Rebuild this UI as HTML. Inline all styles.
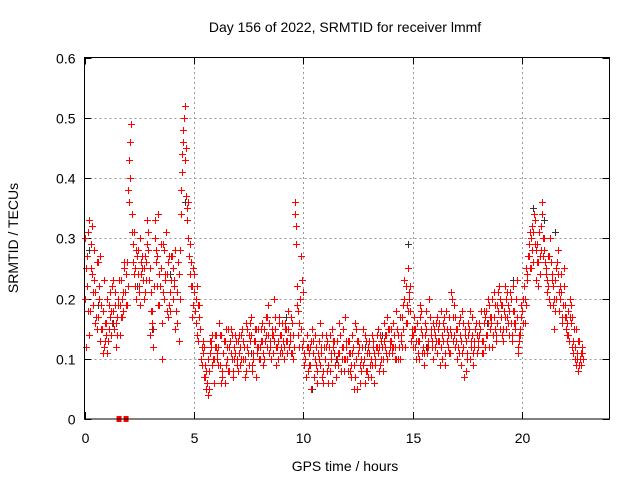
<!DOCTYPE html>
<html><head><meta charset="utf-8"><style>
html,body{margin:0;padding:0;background:#fff;}
svg{display:block;font-family:"Liberation Sans",sans-serif;}
</style></head><body>
<svg id="chart" width="640" height="480" viewBox="0 0 640 480">
<rect width="640" height="480" fill="#fff"/>
<text x="345" y="32" font-size="14" text-anchor="middle">Day 156 of 2022, SRMTID for receiver lmmf</text>
<text x="345" y="471" font-size="14" text-anchor="middle">GPS time / hours</text>
<text x="0" y="0" font-size="14" text-anchor="middle" transform="translate(18,238) rotate(-90)">SRMTID / TECUs</text>
<g id="grid"></g><g id="ticks"></g><g id="dark"></g><g id="red"></g>
<rect x="84.5" y="57.5" width="525" height="361.5" fill="none" stroke="#000" stroke-width="1"/>
</svg>
<script>
const xTicks=[0,5,10,15,20];
const yTicks=[0,0.1,0.2,0.3,0.4,0.5,0.6];
const yTickLabels=["0","0.1","0.2","0.3","0.4","0.5","0.6"];
const redStep=0.1;
const redOffsets=[0,0.05,0.025,0.075];
const redA=[.30,.22,.33,.25,.19,.21,.17,.27,.15,.12,
.16,.19,.14,.18,.21,.17,.19,.20,.26,.24,
.38,.46,.29,.25,.27,.22,.24,.20,.26,.28,
.14,.18,.33,.27,.19,.25,.29,.23,.17,.21,
.27,.22,.18,.24,.38,.48,.52,.33,.29,.22,
.24,.20,.13,.15,.11,.09,.06,.08,.12,.10,
.14,.12,.09,.07,.13,.10,.12,.15,.08,.11,
.13,.09,.15,.12,.08,.14,.17,.10,.13,.11,
.12,.16,.10,.14,.19,.13,.11,.15,.12,.17,
.14,.12,.15,.18,.13,.11,.36,.22,.16,.27,
.13,.10,.08,.12,.15,.07,.09,.13,.11,.06,
.10,.13,.08,.15,.11,.07,.09,.14,.12,.17,
.10,.13,.07,.09,.15,.11,.06,.12,.14,.08,
.11,.07,.13,.10,.15,.09,.12,.16,.14,.11,
.13,.16,.12,.15,.10,.17,.20,.22,.25,.18,
.14,.12,.16,.13,.18,.11,.15,.13,.17,.12,
.14,.11,.16,.18,.13,.09,.12,.15,.20,.14,
.13,.16,.09,.12,.15,.11,.18,.14,.12,.16,
.13,.15,.11,.17,.14,.19,.16,.21,.13,.18,
.15,.19,.22,.17,.14,.20,.18,.16,.12,.15,
.18,.22,.25,.27,.30,.26,.33,.29,.24,.36,
.28,.25,.22,.30,.19,.23,.26,.18,.21,.25,
.15,.18,.20,.17,.12,.10,.13,.09];
const redB=[.12,.31,.18,.24,.28,.15,.22,.19,.11,.13,
.20,.17,.22,.15,.12,.19,.23,.18,.21,.26,
.43,.34,.31,.20,.24,.30,.25,.21,.29,.23,
.18,.12,.26,.34,.22,.16,.28,.24,.19,.27,
.25,.15,.21,.28,.44,.50,.37,.30,.26,.19,
.18,.22,.17,.12,.07,.05,.10,.13,.09,.12,
.10,.16,.06,.11,.15,.08,.13,.10,.12,.09,
.11,.14,.10,.07,.12,.16,.09,.13,.15,.12,
.15,.09,.13,.17,.11,.14,.20,.12,.10,.14,
.11,.16,.13,.12,.17,.10,.32,.14,.20,.12,
.09,.14,.11,.05,.13,.10,.08,.16,.07,.12,
.14,.06,.11,.12,.09,.13,.16,.10,.08,.12,
.13,.08,.11,.16,.05,.12,.10,.09,.13,.07,
.09,.14,.11,.12,.08,.13,.10,.14,.17,.12,
.11,.14,.18,.10,.13,.15,.12,.19,.21,.15,
.17,.10,.13,.19,.11,.14,.12,.20,.15,.10,
.16,.13,.09,.14,.17,.15,.11,.21,.13,.17,
.10,.14,.18,.07,.13,.16,.12,.09,.15,.14,
.16,.11,.18,.14,.20,.17,.12,.15,.19,.22,
.17,.13,.20,.16,.21,.14,.18,.23,.13,.17,
.20,.16,.24,.31,.28,.34,.23,.26,.32,.30,
.26,.21,.27,.24,.15,.20,.28,.22,.17,.19,
.16,.13,.19,.11,.15,.08,.10,.12];
const redC=[.20,.27,.14,.32,.23,.17,.26,.13,.18,.16,
.11,.15,.18,.23,.16,.20,.14,.17,.25,.19,
.36,.49,.26,.22,.28,.19,.27,.25,.23,.31,
.21,.15,.30,.22,.24,.10,.20,.31,.26,.18,
.20,.28,.16,.13,.34,.46,.45,.36,.24,.17,
.21,.14,.19,.10,.13,.07,.04,.11,.14,.06,
.12,.09,.14,.11,.06,.12,.08,.14,.10,.13,
.08,.12,.13,.10,.15,.09,.14,.11,.07,.15,
.10,.13,.15,.12,.16,.10,.14,.17,.13,.11,
.16,.10,.13,.15,.11,.14,.34,.19,.12,.23,
.11,.07,.12,.09,.11,.14,.06,.10,.12,.08,
.12,.09,.14,.06,.13,.10,.11,.08,.15,.10,
.08,.11,.14,.05,.10,.13,.08,.15,.06,.11,
.13,.09,.06,.12,.11,.14,.08,.12,.10,.15,
.15,.12,.10,.14,.17,.12,.23,.16,.20,.13,
.12,.15,.11,.17,.14,.09,.18,.12,.14,.16,
.12,.17,.13,.10,.15,.18,.14,.11,.17,.12,
.15,.11,.13,.16,.08,.14,.10,.17,.13,.11,
.14,.18,.13,.12,.16,.15,.20,.17,.14,.21,
.19,.15,.17,.21,.18,.13,.16,.20,.11,.14,
.16,.20,.23,.29,.25,.31,.28,.22,.27,.34,
.30,.23,.20,.26,.22,.18,.24,.20,.16,.22,
.17,.14,.16,.13,.10,.11,.09,.11];
const redD=[.25,.18,.29,.21,.16,.26,.20,.15,.23,.14,
.13,.21,.16,.19,.14,.23,.17,.21,.19,.22,
.40,.31,.24,.28,.21,.26,.23,.27,.33,.25,
.16,.22,.28,.19,.29,.21,.24,.18,.27,.23,
.23,.18,.26,.20,.41,.43,.35,.27,.22,.25,
.16,.19,.15,.09,.12,.08,.05,.13,.10,.14,
.11,.14,.08,.13,.09,.15,.11,.07,.14,.10,
.14,.10,.12,.16,.11,.13,.08,.15,.12,.10,
.13,.11,.17,.14,.12,.15,.13,.09,.16,.12,
.13,.15,.11,.14,.16,.12,.29,.18,.15,.21,
.10,.12,.09,.13,.07,.12,.11,.09,.14,.10,
.08,.12,.10,.13,.07,.11,.14,.12,.10,.13,
.11,.09,.12,.07,.13,.09,.12,.10,.08,.12,
.10,.12,.09,.14,.12,.10,.13,.11,.15,.13,
.12,.10,.15,.12,.14,.19,.16,.18,.22,.14,
.15,.13,.10,.15,.12,.16,.11,.17,.13,.15,
.13,.15,.12,.16,.11,.13,.17,.14,.19,.15,
.12,.17,.11,.14,.10,.15,.13,.11,.16,.12,
.15,.13,.16,.18,.12,.17,.14,.19,.16,.20,
.14,.18,.15,.19,.16,.22,.15,.17,.14,.19,
.22,.19,.27,.25,.32,.29,.26,.31,.28,.27,
.24,.27,.19,.23,.20,.25,.21,.24,.19,.17,
.14,.17,.12,.15,.09,.13,.11,.10];
const redSeries=[redA,redB,redC,redD];
const darkT=[0.2,0.6,1.3,2.4,3.1,3.9,4.6,5.3,6.4,7.6,8.3,9.2,10.4,11.5,12.8,13.6,14.8,15.6,16.3,17.2,18.4,19.6,20.5,21.0,21.5,22.3];
const darkV=[0.28,0.19,0.16,0.22,0.15,0.24,0.36,0.15,0.06,0.11,0.14,0.17,0.05,0.10,0.12,0.14,0.29,0.12,0.18,0.13,0.16,0.23,0.35,0.33,0.31,0.12];
const squareT=[1.58,1.9];
const squareV=[0,0];

const NS="http://www.w3.org/2000/svg";
const X0=84.5,X1=609.5,Y0=419,Y1=57.5;
function sx(t){return X0+(t/24)*(X1-X0);}
function sy(v){return Y0-(v/0.6)*(Y0-Y1);}
function mk(tag,attrs,parent){const e=document.createElementNS(NS,tag);for(const k in attrs)e.setAttribute(k,attrs[k]);parent.appendChild(e);return e;}
const grid=document.getElementById('grid'),ticks=document.getElementById('ticks');
yTicks.forEach((v,i)=>{
  const y=Math.round(sy(v))+0.5;
  if(i>0&&i<yTicks.length-1){const g=mk('line',{x1:X0,x2:X1,y1:y,y2:y,stroke:'#999','stroke-dasharray':'2,3'},grid);
  
  }
  mk('line',{x1:X0,x2:X0+7,y1:y,y2:y,stroke:'#000'},ticks);
  mk('line',{x1:X1,x2:X1-7,y1:y,y2:y,stroke:'#000'},ticks);
  const t=mk('text',{x:X0-9,y:y+5,'font-size':14,'text-anchor':'end'},ticks);t.textContent=yTickLabels[i];
  
  
});
xTicks.forEach(v=>{
  const x=Math.round(sx(v))+0.5;
  if(v>0){const g=mk('line',{x1:x,x2:x,y1:Y0,y2:Y1,stroke:'#999','stroke-dasharray':'2,3'},grid);
  
  }
  mk('line',{x1:x,x2:x,y1:Y0,y2:Y0-7,stroke:'#000'},ticks);
  mk('line',{x1:x,x2:x,y1:Y1,y2:Y1+7,stroke:'#000'},ticks);
  const t=mk('text',{x:x,y:443,'font-size':14,'text-anchor':'middle'},ticks);t.textContent=String(v);
  
  
});
function plus(t,v,col,parent,name){
  const x=Math.round(sx(t))+0.5,y=Math.round(sy(v))+0.5;
  const p=mk('path',{d:`M${x-3.5} ${y}H${x+3.5}M${x} ${y-3.5}V${y+3.5}`,stroke:col,'stroke-width':1,fill:'none'},parent);
  
  
}
const dark=document.getElementById('dark'),red=document.getElementById('red');
darkT.forEach((t,i)=>plus(t,darkV[i],'#333',dark,'dark-point'));
redSeries.forEach((arr,s)=>arr.forEach((v,i)=>plus(redOffsets[s]+i*redStep,v,'#f00',red,'red-point')));
squareT.forEach((t,i)=>{
  const r=mk('rect',{x:sx(t)-2.5,y:sy(squareV[i])-3,width:5,height:6,fill:'#f00'},red);
  
  
});
</script>
</body></html>
